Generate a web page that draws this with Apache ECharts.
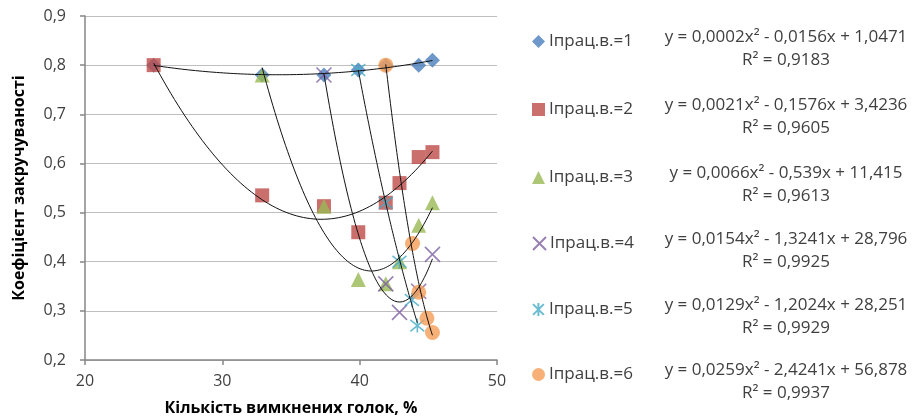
<!DOCTYPE html>
<html>
<head>
<meta charset="utf-8">
<script src="https://cdn.jsdelivr.net/npm/echarts@6/dist/echarts.min.js"></script>
<style>
  html, body { margin: 0; padding: 0; background: #fff; }
  #chart { width: 921px; height: 419px; }
</style>
</head>
<body>
<div id="chart"></div>
<script>
// Measured points: share of switched-off needles (%) vs twist coefficient
const seriesNames = ['Іпрац.в.=1', 'Іпрац.в.=2', 'Іпрац.в.=3', 'Іпрац.в.=4', 'Іпрац.в.=5', 'Іпрац.в.=6'];

const x1 = [25, 32.9, 37.4, 39.9, 41.9, 44.3, 45.3];
const y1 = [0.80, 0.78, 0.78, 0.79, 0.80, 0.80, 0.81];

const x2 = [25, 32.9, 37.4, 39.9, 41.9, 42.9, 44.3, 45.3];
const y2 = [0.80, 0.535, 0.513, 0.46, 0.52, 0.56, 0.613, 0.623];

const x3 = [32.9, 37.4, 39.9, 41.9, 42.9, 44.3, 45.3];
const y3 = [0.78, 0.513, 0.364, 0.355, 0.40, 0.474, 0.52];

const x4 = [37.4, 41.9, 42.9, 44.3, 45.3];
const y4 = [0.78, 0.355, 0.297, 0.34, 0.415];

const x5 = [39.9, 41.9, 42.9, 43.8, 44.2];
const y5 = [0.79, 0.52, 0.40, 0.322, 0.27];

const x6 = [41.9, 43.85, 44.3, 44.9, 45.3];
const y6 = [0.80, 0.437, 0.338, 0.285, 0.256];

// Trend-line equations and R² printed beside the legend
const equations = [
  'y = 0,0002x² - 0,0156x + 1,0471',
  'y = 0,0021x² - 0,1576x + 3,4236',
  'y = 0,0066x² - 0,539x + 11,415',
  'y = 0,0154x² - 1,3241x + 28,796',
  'y = 0,0129x² - 1,2024x + 28,251',
  'y = 0,0259x² - 2,4241x + 56,878'
];
const rSquared = ['R² = 0,9183', 'R² = 0,9605', 'R² = 0,9613', 'R² = 0,9925', 'R² = 0,9929', 'R² = 0,9937'];

const xTicks = [20, 30, 40, 50];
const yTicks = [0.2, 0.3, 0.4, 0.5, 0.6, 0.7, 0.8, 0.9];

const xs = [x1, x2, x3, x4, x5, x6];
const ys = [y1, y2, y3, y4, y5, y6];

const colors = ['#4a7ebb', '#be4b48', '#98b954', '#7d60a0', '#46aac5', '#f59d56'];
const symbols = [
  'diamond',
  'rect',
  'triangle',
  'path://M0,0L10,10M10,0L0,10',
  'path://M0,0L10,10M10,0L0,10M5,-1L5,11',
  'circle'
];
const sizes = [15, 14, 15, 15, 14, 15];

// Vertical centre of each legend row
const legendRows = [44, 112, 180, 246, 312, 377];

// Least-squares quadratic fit (order-2 polynomial trend line)
function quadFit(x, y) {
  let s0 = x.length, s1 = 0, s2 = 0, s3 = 0, s4 = 0, t0 = 0, t1 = 0, t2 = 0;
  for (let i = 0; i < x.length; i++) {
    const a = x[i], a2 = a * a;
    s1 += a; s2 += a2; s3 += a2 * a; s4 += a2 * a2;
    t0 += y[i]; t1 += a * y[i]; t2 += a2 * y[i];
  }
  const M = [[s4, s3, s2, t2], [s3, s2, s1, t1], [s2, s1, s0, t0]];
  for (let c = 0; c < 3; c++) {
    let p = c;
    for (let r = c + 1; r < 3; r++) if (Math.abs(M[r][c]) > Math.abs(M[p][c])) p = r;
    [M[c], M[p]] = [M[p], M[c]];
    for (let r = 0; r < 3; r++) {
      if (r === c) continue;
      const f = M[r][c] / M[c][c];
      for (let k = c; k < 4; k++) M[r][k] -= f * M[c][k];
    }
  }
  return [M[0][3] / M[0][0], M[1][3] / M[1][1], M[2][3] / M[2][2]];
}

function trendPoints(x, y) {
  const [a, b, c] = quadFit(x, y);
  const lo = Math.min(...x), hi = Math.max(...x);
  const pts = [];
  const n = 80;
  for (let i = 0; i <= n; i++) {
    const v = lo + (hi - lo) * i / n;
    pts.push([v, a * v * v + b * v + c]);
  }
  return pts;
}

const FONT = '"Open Sans", "DejaVu Sans", sans-serif';
const series = [];
seriesNames.forEach((name, i) => {
  const isStroke = symbols[i].startsWith('path://');
  series.push({
    name: name,
    type: 'scatter',
    symbol: symbols[i],
    symbolSize: sizes[i],
    data: xs[i].map((v, k) => [v, ys[i][k]]),
    itemStyle: isStroke
      ? { color: colors[i], borderColor: colors[i], borderWidth: 1.6 }
      : { color: colors[i] },
    z: 2 + i,
    emphasis: { disabled: true }
  });
});
seriesNames.forEach((name, i) => {
  series.push({
    name: 'trend' + (i + 1),
    type: 'line',
    data: trendPoints(xs[i], ys[i]),
    showSymbol: false,
    symbol: 'none',
    lineStyle: { color: '#111', width: 1 },
    silent: true,
    z: 20
  });
});

// One legend block per row so each row sits beside its equation
const legends = seriesNames.map((name, i) => ({
  data: [name],
  orient: 'vertical',
  left: 532,
  top: legendRows[i] - 11,
  itemWidth: 13, itemHeight: 13,
  textStyle: { fontSize: 17, color: '#404040', fontFamily: FONT, padding: [0, 0, 0, -1] },
  padding: 0,
  selectedMode: false
}));

const graphics = [];
equations.forEach((eq, i) => {
  const cy = legendRows[i];
  graphics.push({
    type: 'text', x: 786, y: cy - 7,
    style: { text: eq, font: '17px ' + FONT, fill: '#404040', textAlign: 'center', textVerticalAlign: 'middle' }
  });
  graphics.push({
    type: 'text', x: 786, y: cy + 16,
    style: { text: rSquared[i], font: '17px ' + FONT, fill: '#404040', textAlign: 'center', textVerticalAlign: 'middle' }
  });
});

const chart = echarts.init(document.getElementById('chart'), null, { renderer: 'canvas' });
chart.setOption({
  animation: false,
  backgroundColor: '#fff',
  textStyle: { fontFamily: FONT },
  grid: { left: 85, right: 424, top: 16, bottom: 59, outerBoundsMode: 'none', containLabel: false },
  xAxis: {
    type: 'value',
    min: xTicks[0], max: xTicks[xTicks.length - 1], interval: 10,
    name: 'Кількість вимкнених голок, %',
    nameLocation: 'middle', nameGap: 40,
    nameTextStyle: { fontSize: 16, fontWeight: 'bold', color: '#000', fontFamily: FONT },
    axisLine: { lineStyle: { color: '#868686', width: 1.5 } },
    axisTick: { show: true, length: 5, lineStyle: { color: '#868686', width: 1.5 } },
    axisLabel: { fontSize: 16, color: '#404040', margin: 13, fontFamily: FONT },
    splitLine: { show: false }
  },
  yAxis: {
    type: 'value',
    min: yTicks[0], max: yTicks[yTicks.length - 1], interval: 0.1,
    name: 'Коефіцієнт закручуваності',
    nameLocation: 'middle', nameGap: 58, nameRotate: 90,
    nameTextStyle: { fontSize: 16, fontWeight: 'bold', color: '#000', fontFamily: FONT },
    axisLine: { show: true, lineStyle: { color: '#868686', width: 1.5 } },
    axisTick: { show: true, length: 5, lineStyle: { color: '#868686', width: 1.5 } },
    axisLabel: {
      fontSize: 16, color: '#404040', margin: 19, fontFamily: FONT,
      formatter: v => v.toFixed(1).replace('.', ',')
    },
    splitLine: { lineStyle: { color: '#bfbfbf', width: 1.2 } }
  },
  legend: legends,
  graphic: graphics,
  series: series
});
</script>
</body>
</html>
